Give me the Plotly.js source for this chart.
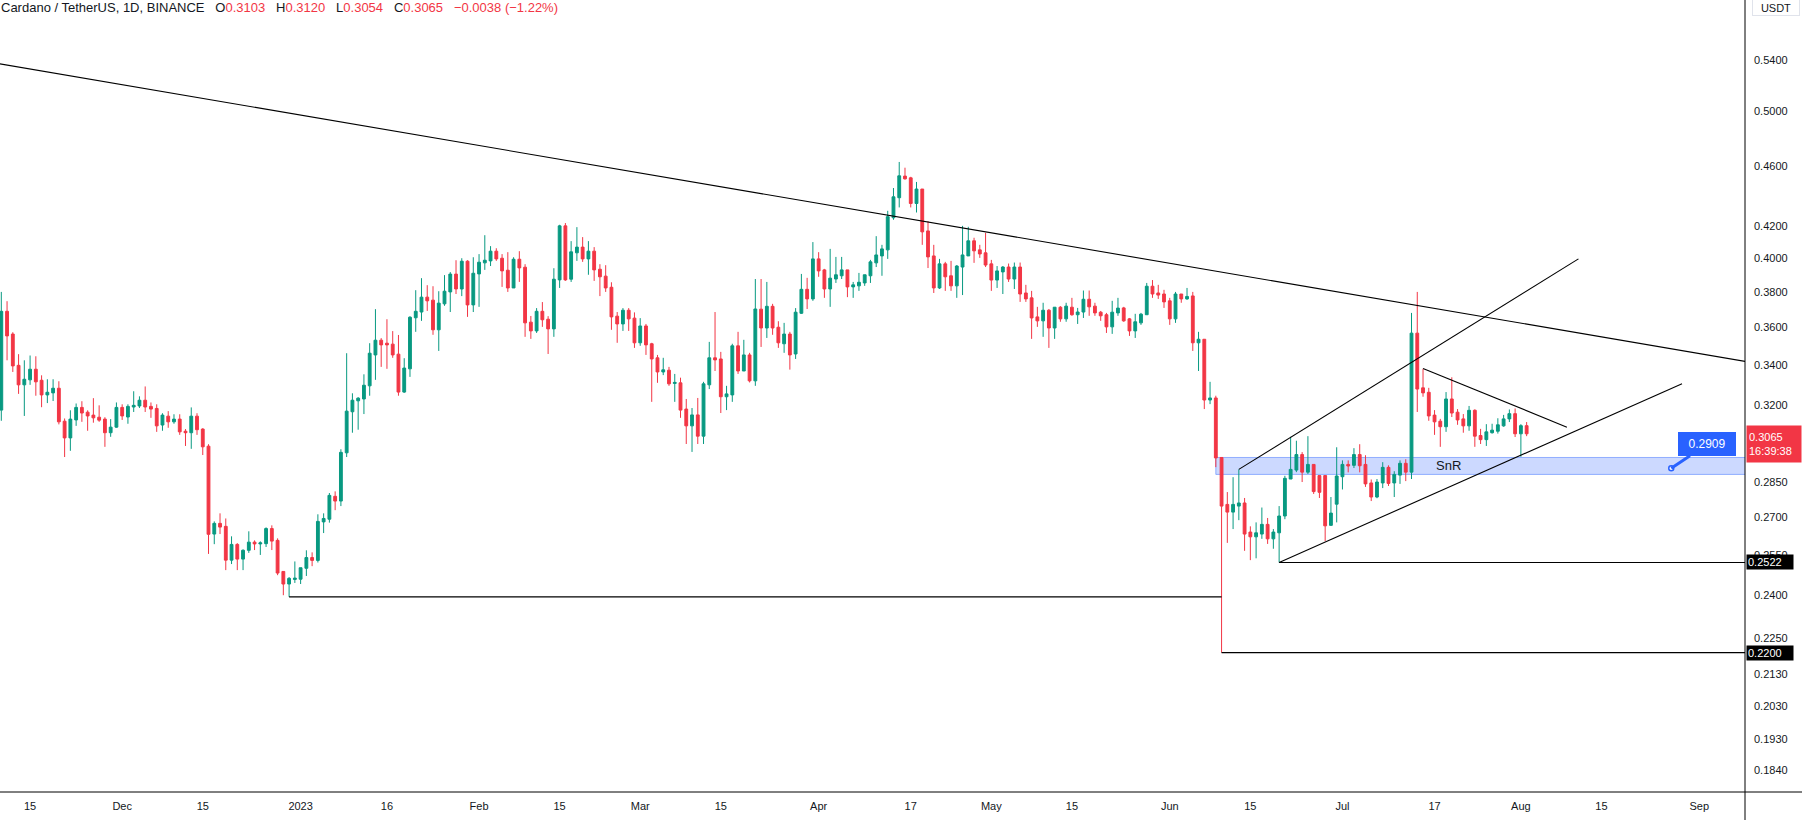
<!DOCTYPE html>
<html>
<head>
<meta charset="utf-8">
<script src="https://cdn.plot.ly/plotly-3.0.1.min.js"></script>
<style>
  html, body { margin: 0; padding: 0; background: #fff; }
  #chart { width: 1802px; height: 820px; }
</style>
</head>
<body>
<div id="chart"></div>
<script>
// ADA/USDT daily candles, first candle on 2022-11-10
const firstDay = [2022, 10, 10];

const open = [
  0.3177,0.3690,0.3565,0.3400,0.3301,0.3326,0.3380,0.3324,0.3251,0.3261,
  0.3284,0.3124,0.3046,0.3130,0.3190,0.3167,0.3153,0.3143,0.3134,0.3070,
  0.3096,0.3190,0.3144,0.3192,0.3197,0.3225,0.3195,0.3185,0.3106,0.3148,
  0.3121,0.3134,0.3077,0.3070,0.3148,0.3087,0.3008,0.2633,0.2676,0.2664,
  0.2531,0.2592,0.2535,0.2569,0.2601,0.2594,0.2595,0.2655,0.2608,0.2488,
  0.2441,0.2458,0.2459,0.2500,0.2541,0.2530,0.2682,0.2693,0.2788,0.2768,
  0.2978,0.3169,0.3222,0.3231,0.3296,0.3454,0.3532,0.3516,0.3511,0.3458,
  0.3265,0.3382,0.3654,0.3686,0.3770,0.3753,0.3588,0.3732,0.3800,0.3904,
  0.3817,0.3981,0.3726,0.3905,0.3971,0.3983,0.4042,0.3999,0.3927,0.3823,
  0.3993,0.3945,0.3630,0.3582,0.3690,0.3646,0.3593,0.3870,0.4200,0.3874,
  0.4032,0.4067,0.3995,0.4042,0.3933,0.3892,0.3827,0.3663,0.3620,0.3696,
  0.3652,0.3518,0.3609,0.3513,0.3439,0.3366,0.3375,0.3308,0.3311,0.3182,
  0.3102,0.3154,0.3054,0.3301,0.3439,0.3433,0.3242,0.3251,0.3502,0.3371,
  0.3454,0.3321,0.3702,0.3598,0.3718,0.3602,0.3513,0.3565,0.3459,0.3679,
  0.3815,0.3760,0.3995,0.3929,0.3817,0.3875,0.3894,0.3929,0.3829,0.3835,
  0.3852,0.3894,0.3971,0.4013,0.4050,0.4252,0.4383,0.4529,0.4517,0.4345,
  0.4441,0.4168,0.4013,0.3823,0.3965,0.3894,0.3835,0.3946,0.4013,0.4106,
  0.4050,0.4032,0.3965,0.3869,0.3917,0.3946,0.3875,0.3946,0.3794,0.3766,
  0.3659,0.3637,0.3696,0.3598,0.3713,0.3648,0.3713,0.3671,0.3686,0.3758,
  0.3719,0.3685,0.3671,0.3604,0.3681,0.3709,0.3648,0.3582,0.3626,0.3671,
  0.3833,0.3794,0.3788,0.3749,0.3648,0.3788,0.3760,0.3777,0.3518,0.3537,
  0.3226,0.3236,0.2957,0.2754,0.2722,0.2747,0.2760,0.2641,0.2622,0.2633,
  0.2672,0.2614,0.2638,0.2706,0.2862,0.2901,0.2970,0.2892,0.2926,0.2877,
  0.2877,0.2668,0.2755,0.2872,0.2926,0.2922,0.2970,0.2926,0.2845,0.2785,
  0.2845,0.2913,0.2845,0.2879,0.2931,0.2892,0.3570,0.3286,0.3264,0.3153,
  0.3124,0.3098,0.3231,0.3167,0.3135,0.3102,0.3176,0.3057,0.3038,0.3070,
  0.3077,0.3102,0.3135,0.3160,0.3065,0.3103
];
const high = [
  0.3800,0.3747,0.3575,0.3458,0.3426,0.3451,0.3447,0.3349,0.3329,0.3329,
  0.3319,0.3137,0.3176,0.3209,0.3220,0.3176,0.3235,0.3200,0.3143,0.3134,
  0.3214,0.3205,0.3205,0.3269,0.3244,0.3293,0.3214,0.3205,0.3162,0.3172,
  0.3157,0.3157,0.3087,0.3190,0.3162,0.3091,0.3017,0.2684,0.2717,0.2696,
  0.2624,0.2597,0.2573,0.2644,0.2608,0.2604,0.2660,0.2668,0.2616,0.2488,
  0.2467,0.2526,0.2502,0.2569,0.2561,0.2713,0.2717,0.2802,0.2809,0.2994,
  0.3463,0.3259,0.3240,0.3354,0.3516,0.3702,0.3543,0.3646,0.3581,0.3560,
  0.3437,0.3663,0.3810,0.3880,0.3839,0.3833,0.3804,0.3898,0.3916,0.3987,
  0.3999,0.3987,0.4005,0.4024,0.4141,0.4073,0.4060,0.4024,0.4036,0.4005,
  0.4042,0.3963,0.3664,0.3708,0.3742,0.3663,0.3939,0.4207,0.4218,0.4104,
  0.4192,0.4129,0.4104,0.4067,0.3963,0.3957,0.3856,0.3686,0.3708,0.3708,
  0.3684,0.3652,0.3620,0.3518,0.3454,0.3439,0.3392,0.3356,0.3337,0.3231,
  0.3187,0.3236,0.3316,0.3523,0.3686,0.3470,0.3296,0.3513,0.3577,0.3534,
  0.3465,0.3875,0.3875,0.3858,0.3732,0.3635,0.3626,0.3577,0.3708,0.3905,
  0.3882,0.4098,0.4036,0.3935,0.4056,0.4007,0.4007,0.3929,0.3858,0.3911,
  0.3900,0.3989,0.4135,0.4081,0.4297,0.4448,0.4627,0.4587,0.4524,0.4489,
  0.4441,0.4230,0.4081,0.3995,0.3977,0.3983,0.3958,0.4200,0.4194,0.4125,
  0.4081,0.4156,0.3989,0.3952,0.3952,0.3967,0.3973,0.3973,0.3841,0.3806,
  0.3715,0.3738,0.3703,0.3713,0.3719,0.3738,0.3766,0.3709,0.3808,0.3808,
  0.3738,0.3692,0.3681,0.3749,0.3766,0.3715,0.3653,0.3676,0.3681,0.3852,
  0.3869,0.3841,0.3812,0.3766,0.3800,0.3788,0.3823,0.3800,0.3577,0.3537,
  0.3316,0.3247,0.2957,0.2806,0.2870,0.2904,0.2781,0.2664,0.2680,0.2741,
  0.2698,0.2653,0.2747,0.2876,0.3051,0.3033,0.2981,0.3054,0.2926,0.2877,
  0.2877,0.2785,0.3003,0.2944,0.2944,0.2999,0.3017,0.2967,0.2860,0.2862,
  0.2936,0.2922,0.2896,0.2944,0.2949,0.3681,0.3800,0.3382,0.3286,0.3177,
  0.3135,0.3265,0.3339,0.3182,0.3158,0.3197,0.3181,0.3088,0.3110,0.3112,
  0.3138,0.3154,0.3180,0.3185,0.3110,0.3120
];
const low = [
  0.3126,0.3426,0.3366,0.3256,0.3149,0.3301,0.3247,0.3191,0.3211,0.3221,
  0.3109,0.2959,0.2987,0.3102,0.3121,0.3079,0.3117,0.3121,0.3005,0.3051,
  0.3093,0.3130,0.3112,0.3168,0.3187,0.3168,0.3140,0.3074,0.3079,0.3093,
  0.3112,0.3060,0.3009,0.2996,0.3060,0.2968,0.2555,0.2593,0.2633,0.2493,
  0.2516,0.2493,0.2493,0.2559,0.2570,0.2551,0.2582,0.2570,0.2474,0.2400,
  0.2394,0.2445,0.2441,0.2471,0.2508,0.2522,0.2637,0.2679,0.2730,0.2747,
  0.2959,0.3070,0.3084,0.3158,0.3247,0.3326,0.3392,0.3382,0.3439,0.3247,
  0.3261,0.3341,0.3577,0.3637,0.3692,0.3561,0.3475,0.3721,0.3686,0.3788,
  0.3776,0.3659,0.3686,0.3715,0.3929,0.3952,0.3983,0.3829,0.3800,0.3823,
  0.3858,0.3550,0.3539,0.3571,0.3604,0.3459,0.3550,0.3823,0.3864,0.3858,
  0.3983,0.3977,0.3900,0.3864,0.3776,0.3800,0.3588,0.3518,0.3582,0.3582,
  0.3491,0.3502,0.3454,0.3217,0.3311,0.3350,0.3296,0.3217,0.3140,0.3018,
  0.2982,0.3018,0.3018,0.3280,0.3371,0.3163,0.3177,0.3217,0.3356,0.3371,
  0.3313,0.3296,0.3496,0.3544,0.3561,0.3491,0.3465,0.3378,0.3433,0.3675,
  0.3703,0.3749,0.3888,0.3766,0.3715,0.3852,0.3875,0.3770,0.3766,0.3806,
  0.3835,0.3852,0.3946,0.3894,0.3995,0.4239,0.4319,0.4505,0.4319,0.4286,
  0.4081,0.3940,0.3794,0.3817,0.3806,0.3806,0.3766,0.3782,0.4013,0.3971,
  0.4001,0.3946,0.3806,0.3823,0.3788,0.3858,0.3817,0.3743,0.3743,0.3539,
  0.3604,0.3550,0.3491,0.3539,0.3632,0.3632,0.3665,0.3620,0.3653,0.3665,
  0.3665,0.3637,0.3571,0.3566,0.3665,0.3632,0.3555,0.3544,0.3615,0.3671,
  0.3766,0.3760,0.3709,0.3615,0.3626,0.3738,0.3755,0.3475,0.3371,0.3182,
  0.3206,0.2914,0.2200,0.2598,0.2653,0.2689,0.2567,0.2531,0.2538,0.2614,
  0.2594,0.2575,0.2522,0.2693,0.2862,0.2892,0.2849,0.2884,0.2798,0.2781,
  0.2605,0.2666,0.2680,0.2817,0.2891,0.2910,0.2891,0.2828,0.2768,0.2780,
  0.2823,0.2832,0.2785,0.2841,0.2853,0.2862,0.3168,0.3242,0.3126,0.3060,
  0.3005,0.3074,0.3144,0.3107,0.3070,0.3079,0.3005,0.3018,0.3009,0.3066,
  0.3066,0.3098,0.3120,0.3050,0.2960,0.3054
];
const close = [
  0.3690,0.3555,0.3397,0.3301,0.3329,0.3380,0.3316,0.3251,0.3264,0.3284,
  0.3121,0.3046,0.3134,0.3190,0.3163,0.3149,0.3140,0.3129,0.3070,0.3096,
  0.3190,0.3149,0.3195,0.3200,0.3225,0.3192,0.3182,0.3102,0.3153,0.3121,
  0.3134,0.3074,0.3070,0.3148,0.3084,0.3005,0.2632,0.2676,0.2661,0.2531,
  0.2592,0.2535,0.2569,0.2601,0.2594,0.2598,0.2655,0.2605,0.2482,0.2441,
  0.2462,0.2463,0.2502,0.2541,0.2530,0.2684,0.2696,0.2792,0.2768,0.2980,
  0.3172,0.3225,0.3235,0.3299,0.3463,0.3532,0.3507,0.3507,0.3454,0.3265,
  0.3386,0.3657,0.3690,0.3770,0.3749,0.3588,0.3736,0.3804,0.3904,0.3817,
  0.3981,0.3726,0.3909,0.3975,0.3987,0.4042,0.3995,0.3923,0.3823,0.3993,
  0.3941,0.3626,0.3582,0.3690,0.3643,0.3593,0.3874,0.4200,0.3870,0.4038,
  0.4067,0.3995,0.4042,0.3929,0.3888,0.3823,0.3659,0.3620,0.3696,0.3648,
  0.3518,0.3609,0.3507,0.3433,0.3366,0.3377,0.3306,0.3313,0.3177,0.3102,
  0.3154,0.3054,0.3306,0.3439,0.3428,0.3242,0.3256,0.3502,0.3371,0.3454,
  0.3321,0.3703,0.3598,0.3718,0.3598,0.3518,0.3565,0.3454,0.3685,0.3815,
  0.3760,0.3995,0.3923,0.3817,0.3880,0.3900,0.3929,0.3829,0.3841,0.3856,
  0.3900,0.3977,0.4019,0.4056,0.4259,0.4389,0.4531,0.4510,0.4345,0.4441,
  0.4162,0.4007,0.3823,0.3965,0.3888,0.3835,0.3952,0.4019,0.4106,0.4044,
  0.4025,0.3958,0.3869,0.3923,0.3946,0.3875,0.3946,0.3788,0.3760,0.3653,
  0.3637,0.3696,0.3598,0.3713,0.3648,0.3719,0.3671,0.3686,0.3758,0.3715,
  0.3681,0.3665,0.3604,0.3685,0.3708,0.3637,0.3582,0.3632,0.3674,0.3833,
  0.3788,0.3782,0.3743,0.3648,0.3788,0.3760,0.3774,0.3518,0.3537,0.3226,
  0.3236,0.2955,0.2747,0.2722,0.2754,0.2760,0.2633,0.2622,0.2638,0.2672,
  0.2614,0.2641,0.2706,0.2865,0.2904,0.2970,0.2892,0.2926,0.2808,0.2805,
  0.2666,0.2718,0.2875,0.2926,0.2919,0.2970,0.2920,0.2841,0.2785,0.2849,
  0.2913,0.2843,0.2882,0.2931,0.2892,0.3570,0.3280,0.3261,0.3149,0.3121,
  0.3098,0.3231,0.3163,0.3130,0.3102,0.3176,0.3054,0.3038,0.3074,0.3082,
  0.3107,0.3135,0.3160,0.3065,0.3103,0.3065
];

const priceTicks = [0.54, 0.50, 0.46, 0.42, 0.40, 0.38, 0.36, 0.34, 0.32,
                    0.285, 0.27, 0.255, 0.24, 0.225, 0.213, 0.203, 0.193, 0.184];
const dateTicks = ["2022-11-15", "2022-12-01", "2022-12-15", "2023-01-01", "2023-01-16",
                   "2023-02-01", "2023-02-15", "2023-03-01", "2023-03-15", "2023-04-01",
                   "2023-04-17", "2023-05-01", "2023-05-15", "2023-06-01", "2023-06-15",
                   "2023-07-01", "2023-07-17", "2023-08-01", "2023-08-15", "2023-09-01"];
const dateTickText = ["15", "Dec", "15", "2023", "16", "Feb", "15", "Mar", "15", "Apr",
                      "17", "May", "15", "Jun", "15", "Jul", "17", "Aug", "15", "Sep"];

// drawn lines: [start, end] dates and prices
const trendX = ["2022-10-31", "2023-09-16"];     const trendY = [0.5447, 0.3385];
const lowLineX = ["2022-12-30", "2023-06-10"];   const lowLineY = [0.2394, 0.2394];
const wickLineX = ["2023-06-10", "2023-09-16"];  const wickLineY = [0.2200, 0.2200];
const baseLineX = ["2023-06-20", "2023-09-16"];  const baseLineY = [0.2522, 0.2522];
const chanTopX = ["2023-06-13", "2023-08-11"];   const chanTopY = [0.2904, 0.3995];
const chanLowX = ["2023-06-20", "2023-08-29"];   const chanLowY = [0.2522, 0.3307];
const wedgeTopX = ["2023-07-15", "2023-08-09"];  const wedgeTopY = [0.3384, 0.3096];
const snrZone = {x0: "2023-06-09", lo: 0.2882, hi: 0.2957};
const calloutPrice = 0.2909;
const calloutDate = "2023-08-27 03:00";
const lastTimer = "16:39:38";

const days = open.map((_, i) =>
  new Date(Date.UTC(firstDay[0], firstDay[1], firstDay[2] + i)).toISOString().slice(0, 10));

const UP = "#089981", DOWN = "#f23645", INK = "#131722";
const FONT = "Liberation Sans, Arial, sans-serif";

// price axis geometry (log scale, px per natural-log unit)
const plotH = 792, plotW = 1745;
const pxPerLn = 660, refPrice = 0.54, refPx = 60;
const priceAt = px => refPrice * Math.exp(-(px - refPx) / pxPerLn);
const shift = (p, px) => p * Math.exp(-px / pxPerLn);
const lg = Math.log10;

const n = close.length;
const chg = close[n - 1] - close[n - 2];
const pct = chg / close[n - 2] * 100;
const fmtSigned = v => (v < 0 ? "\u2212" : "+") + Math.abs(v).toFixed(4);
const red = s => `<span style="color:${DOWN}">${s}</span>`;
const sp = "&nbsp;&nbsp;&nbsp;";
const header = "Cardano / TetherUS, 1D, BINANCE" + sp +
  "O" + red(open[n - 1].toFixed(4)) + sp +
  "H" + red(high[n - 1].toFixed(4)) + sp +
  "L" + red(low[n - 1].toFixed(4)) + sp +
  "C" + red(close[n - 1].toFixed(4)) + sp +
  red(fmtSigned(chg) + " (" + (pct < 0 ? "\u2212" : "+") + Math.abs(pct).toFixed(2) + "%)");

const line = (x, y) => ({
  x: x, y: y, type: "scatter", mode: "lines",
  line: {color: "#000", width: 1.1}, hoverinfo: "skip", showlegend: false
});

const traces = [
  {
    x: days, open: open, high: high, low: low, close: close,
    type: "candlestick",
    increasing: {line: {color: UP, width: 1}, fillcolor: UP},
    decreasing: {line: {color: DOWN, width: 1}, fillcolor: DOWN},
    whiskerwidth: 0, hoverinfo: "skip", showlegend: false
  },
  line(trendX, trendY),
  line(lowLineX, lowLineY),
  line(wickLineX, wickLineY),
  line(baseLineX, baseLineY),
  line(chanTopX, chanTopY),
  line(chanLowX, chanLowY),
  line(wedgeTopX, wedgeTopY),
  {
    x: [calloutDate], y: [calloutPrice], type: "scatter", mode: "markers",
    marker: {size: 5, color: "#fff", line: {color: "#2962ff", width: 1.5}},
    hoverinfo: "skip", showlegend: false
  }
];

const edgeX = 1 + 1 / plotW;
const axisLabel = (price, text, bg) => ({
  xref: "paper", x: edgeX, xanchor: "left",
  yref: "y", y: lg(price), yanchor: "middle",
  text: text, showarrow: false, align: "left",
  bgcolor: bg, borderpad: 1, width: 44, height: 12,
  font: {family: FONT, size: 11, color: "#fff"}
});

const layout = {
  width: 1802, height: 820,
  margin: {l: 0, r: 1802 - plotW, t: 0, b: 820 - plotH},
  paper_bgcolor: "#fff", plot_bgcolor: "#fff",
  font: {family: FONT, size: 11, color: INK},
  showlegend: false,
  xaxis: {
    type: "date",
    range: ["2022-11-09 18:35", "2023-09-08 22:30"],
    tickvals: dateTicks, ticktext: dateTickText,
    showgrid: false, zeroline: false, ticks: "", showline: false,
    ticklabelstandoff: 6,
    tickfont: {family: FONT, size: 11, color: INK},
    rangeslider: {visible: false}, fixedrange: true
  },
  yaxis: {
    type: "log", side: "right",
    range: [lg(priceAt(plotH)), lg(priceAt(0))],
    tickvals: priceTicks, ticktext: priceTicks.map(v => v.toFixed(4)),
    showgrid: false, zeroline: false, ticks: "", showline: false,
    ticklabelstandoff: 8,
    tickfont: {family: FONT, size: 11, color: INK},
    fixedrange: true
  },
  shapes: [
    {
      type: "rect", xref: "x", yref: "y", layer: "below",
      x0: snrZone.x0, x1: "2023-09-20", y0: snrZone.lo, y1: snrZone.hi,
      fillcolor: "rgba(41,98,255,0.24)", line: {color: "rgba(41,98,255,0.45)", width: 1}
    },
    {type: "line", xref: "paper", yref: "paper", x0: 1, x1: 1, y0: -(820 - plotH) / plotH, y1: 1,
     line: {color: "#000", width: 1}},
    {type: "line", xref: "paper", yref: "paper", x0: 0, x1: 1802 / plotW, y0: 0, y1: 0,
     line: {color: "#000", width: 1}}
  ],
  annotations: [
    {
      xref: "paper", yref: "paper", x: 0, y: 1, xanchor: "left", yanchor: "top",
      xshift: -1, yshift: 2, text: header, showarrow: false, align: "left",
      font: {family: FONT, size: 13, color: INK}
    },
    {
      xref: "x", yref: "y", x: "2023-07-19 10:00", y: lg((snrZone.lo + snrZone.hi) / 2),
      text: "SnR", showarrow: false, font: {family: FONT, size: 13, color: INK}
    },
    {
      xref: "x", yref: "y", x: calloutDate, y: lg(calloutPrice),
      ax: 36, ay: -24, axref: "pixel", ayref: "pixel",
      text: calloutPrice.toFixed(4), showarrow: true, arrowhead: 0,
      arrowwidth: 3, arrowcolor: "#2962ff", standoff: 0,
      bgcolor: "#2962ff", bordercolor: "#2962ff", borderpad: 3, width: 50, height: 16,
      font: {family: FONT, size: 12, color: "#fff"}
    },
    {
      xref: "paper", x: edgeX, xanchor: "left",
      yref: "y", y: lg(shift(close[n - 1], 10)), yanchor: "middle",
      text: close[n - 1].toFixed(4) + "<br>" + lastTimer, showarrow: false, align: "left",
      bgcolor: DOWN, borderpad: 2, width: 50, height: 32,
      font: {family: FONT, size: 11, color: "#fff"}
    },
    axisLabel(baseLineY[0], baseLineY[0].toFixed(4), "#000"),
    axisLabel(wickLineY[0], wickLineY[0].toFixed(4), "#000"),
    {
      xref: "paper", yref: "paper", x: 1 + 31 / plotW, y: 1 + 1 / plotH,
      xanchor: "center", yanchor: "top", text: "USDT", showarrow: false,
      bordercolor: "#e0e3eb", borderwidth: 1, borderpad: 1, width: 44, height: 13,
      font: {family: FONT, size: 11, color: INK}
    }
  ]
};

Plotly.newPlot("chart", traces, layout, {displayModeBar: false, staticPlot: true});
</script>
</body>
</html>
